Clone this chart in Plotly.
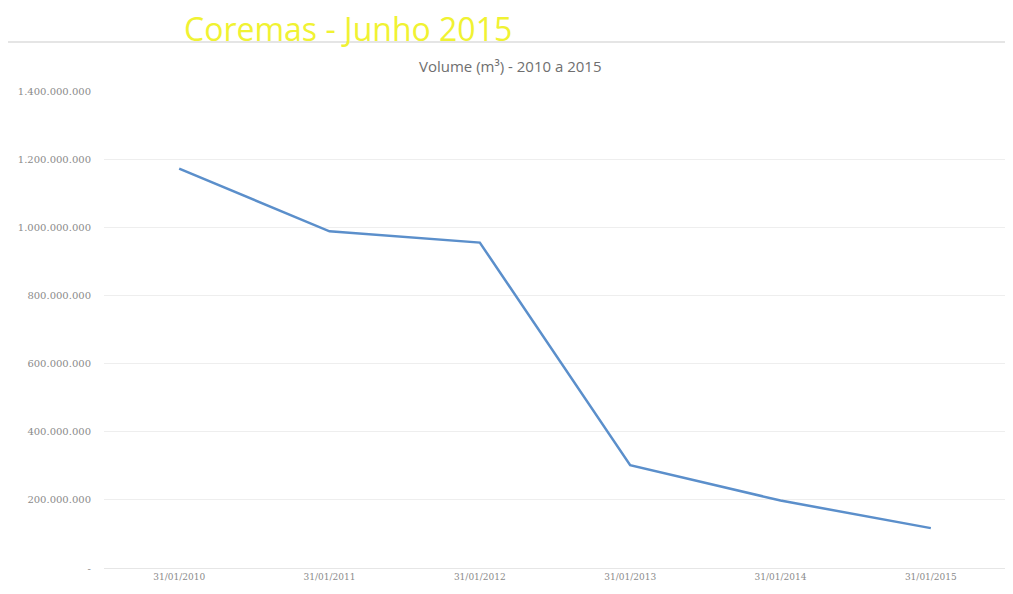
import plotly.graph_objects as go

dates = ["31/01/2010", "31/01/2011", "31/01/2012", "31/01/2013", "31/01/2014", "31/01/2015"]
volume = [1172000000, 988000000, 955000000, 302000000, 198000000, 117000000]
y_tick_vals = [0, 200000000, 400000000, 600000000, 800000000, 1000000000, 1200000000, 1400000000]
y_tick_text = ["-", "200.000.000", "400.000.000", "600.000.000", "800.000.000",
               "1.000.000.000", "1.200.000.000", "1.400.000.000"]

fig = go.Figure()
fig.add_trace(go.Scatter(x=dates, y=volume, mode="lines",
                         line=dict(color="#5b8fcb", width=2.5), showlegend=False))

fig.update_layout(
    width=1005, height=586,
    margin=dict(l=96, r=7, t=83, b=26),
    paper_bgcolor="white", plot_bgcolor="white",
    font=dict(family="DejaVu Serif", color="#7f7f7f"),
    xaxis=dict(type="category", range=[-0.5, 5.5], showgrid=False, showline=True,
               linecolor="#e6e6e6", ticks="",
               tickfont=dict(size=9, color="#8a8a8a", family="DejaVu Serif")),
    yaxis=dict(range=[0, 1400000000], tickvals=y_tick_vals, ticktext=y_tick_text,
               showgrid=True, gridcolor="#eeeeee", zeroline=False, showline=False,
               ticks="", ticklabelstandoff=12,
               tickfont=dict(size=10, color="#8a8a8a", family="DejaVu Serif")),
    shapes=[dict(type="line", xref="paper", yref="paper",
                 x0=-0.1064, x1=1.0078, y0=1.1027, y1=1.1027,
                 line=dict(color="#dcdcdc", width=1.5))],
    annotations=[
        dict(text="Coremas - Junho 2015", xref="paper", yref="paper",
             x=0.2705, y=1.132, xanchor="center", yanchor="middle",
             showarrow=False, font=dict(family="Open Sans", size=32, color="#f0f232")),
        dict(text="Volume (m³) - 2010 a 2015", xref="paper", yref="paper",
             x=0.450, y=1.052, xanchor="center", yanchor="middle",
             showarrow=False, font=dict(family="Open Sans", size=15, color="#6f6f6f")),
    ],
)

fig.write_html("out.html")
